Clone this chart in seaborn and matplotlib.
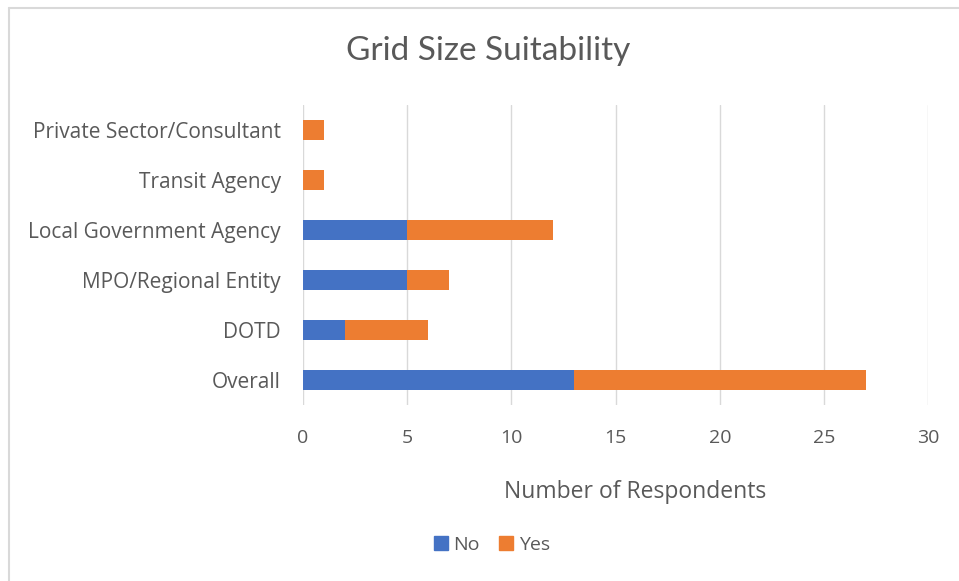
import numpy as np
import matplotlib.pyplot as plt
import pandas as pd
import seaborn as sns
from matplotlib.lines import Line2D
from matplotlib.patches import Patch

categories = ["Private Sector/Consultant", "Transit Agency", "Local Government Agency",
              "MPO/Regional Entity", "DOTD", "Overall"]
no_counts = [0, 0, 5, 5, 2, 13]
yes_counts = [1, 1, 7, 2, 4, 14]
x_ticks = [0, 5, 10, 15, 20, 25, 30]

df = pd.DataFrame({"Group": categories, "No": no_counts, "Yes": yes_counts})
df["Total"] = df["No"] + df["Yes"]

sns.set_style("white")
plt.rcParams["font.family"] = ["Open Sans", "DejaVu Sans"]
text_c = "#595959"
blue = "#4472C4"
orange = "#ED7D31"

fig = plt.figure(figsize=(9.59, 5.81), dpi=100)
ax = fig.add_axes([0.316, 0.303, 0.652, 0.516])

# stacked: total in orange underneath, "No" in blue on top
sns.barplot(data=df, y="Group", x="Total", color=orange, width=0.4, saturation=1,
            order=categories, ax=ax, edgecolor="none")
sns.barplot(data=df, y="Group", x="No", color=blue, width=0.4, saturation=1,
            order=categories, ax=ax, edgecolor="none")

ax.set_xlim(0, 30)
ax.set_ylim(5.5, -0.5)
ax.set_xticks(x_ticks)
ax.xaxis.grid(True, color="#D9D9D9", lw=1)
ax.set_axisbelow(True)
for s in ax.spines.values():
    s.set_visible(False)
ax.tick_params(axis="x", length=0, pad=17, labelsize=14, labelcolor=text_c)
ax.tick_params(axis="y", length=0, pad=16, labelsize=15, labelcolor=text_c)
ax.set_xlabel("")
ax.set_ylabel("")

fig.text(0.509, 0.913, "Grid Size Suitability", ha="center", va="center",
         fontsize=24, color=text_c, family=["Lato", "DejaVu Sans"])
fig.text(0.662, 0.153, "Number of Respondents", ha="center", va="center",
         fontsize=16.5, color=text_c)

handles = [Patch(color=blue, label="No"), Patch(color=orange, label="Yes")]
fig.legend(handles=handles, loc="center", bbox_to_anchor=(0.513, 0.062), ncol=2,
           frameon=False, fontsize=14, handlelength=0.7, handleheight=0.7,
           handletextpad=0.3, columnspacing=1.0, labelcolor=text_c)

# light outer border (top and left edges visible)
fig.add_artist(Line2D([0.009, 1.0], [0.986, 0.986], color="#D9D9D9", lw=1.5,
                      transform=fig.transFigure))
fig.add_artist(Line2D([0.009, 0.009], [0.0, 0.986], color="#D9D9D9", lw=1.5,
                      transform=fig.transFigure))

fig.savefig("out.png", dpi=100)
